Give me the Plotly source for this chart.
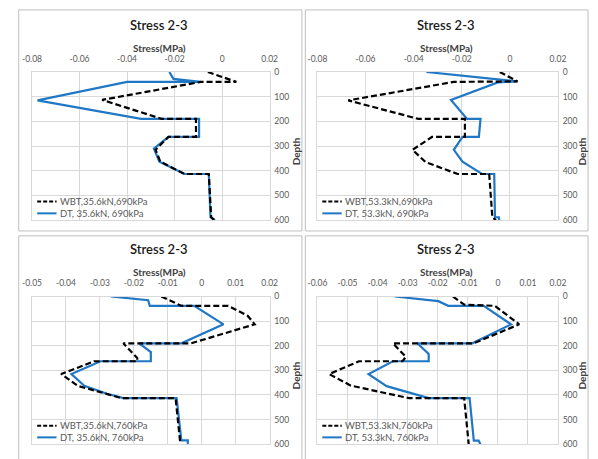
import plotly.graph_objects as go

# ---- data: stress (MPa) along depth for each loading case ----
# 35.6 kN, 690 kPa
wbt_356_690_depth = [0, 40, 40, 113, 190, 190, 263, 263, 315, 363, 413, 413, 588, 600]
wbt_356_690_stress = [-0.006, 0.006, -0.009, -0.0505, -0.0253, -0.011, -0.011, -0.0226, -0.028, -0.026, -0.0158, -0.0056, -0.0046, -0.0032]
dt_356_690_depth = [0, 28, 40, 40, 115, 190, 190, 263, 263, 310, 363, 413, 413, 588, 600]
dt_356_690_stress = [-0.0222, -0.0205, -0.009, -0.040, -0.0777, -0.0341, -0.0097, -0.0097, -0.0226, -0.0287, -0.0264, -0.0158, -0.0056, -0.0049, -0.0030]

# 53.3 kN, 690 kPa
wbt_533_690_depth = [0, 38, 40, 115, 190, 190, 263, 263, 315, 365, 413, 413, 588, 600]
wbt_533_690_stress = [-0.0042, 0.0032, -0.0233, -0.0672, -0.038, -0.0187, -0.0187, -0.0324, -0.0405, -0.035, -0.0217, -0.0086, -0.0073, -0.0058]
dt_533_690_depth = [0, 38, 42, 113, 190, 190, 263, 263, 315, 363, 413, 413, 588, 588, 600]
dt_533_690_stress = [-0.0347, 0.0030, -0.005, -0.0245, -0.0178, -0.0122, -0.0129, -0.0197, -0.0233, -0.0197, -0.0116, -0.0065, -0.0062, -0.0046, -0.0044]

# 35.6 kN, 760 kPa
wbt_356_760_depth = [0, 38, 38, 78, 113, 190, 190, 250, 263, 263, 315, 363, 413, 413, 600]
wbt_356_760_stress = [-0.0119, -0.006, 0.0078, 0.0135, 0.0156, -0.0031, -0.0231, -0.019, -0.019, -0.0317, -0.0414, -0.0365, -0.0236, -0.0077, -0.0063]
dt_356_760_depth = [0, 15, 38, 38, 113, 190, 190, 226, 263, 263, 315, 363, 395, 413, 413, 584, 584, 600]
dt_356_760_stress = [-0.0268, -0.0158, -0.0153, -0.0022, 0.0064, -0.006, -0.0184, -0.015, -0.015, -0.0298, -0.0384, -0.0346, -0.0279, -0.0231, -0.0074, -0.006, -0.0041, -0.0041]

# 53.3 kN, 760 kPa
wbt_533_760_depth = [0, 33, 38, 113, 190, 190, 245, 263, 263, 315, 362, 413, 413, 600]
wbt_533_760_stress = [-0.0149, -0.0112, -0.001, 0.0071, -0.008, -0.0349, -0.0306, -0.0317, -0.0462, -0.0561, -0.0489, -0.0295, -0.0112, -0.0097]
dt_533_760_depth = [0, 19, 38, 38, 113, 190, 190, 233, 263, 263, 315, 364, 413, 413, 585, 585, 600]
dt_533_760_stress = [-0.0343, -0.0198, -0.0165, -0.0047, 0.0044, -0.0085, -0.0268, -0.023, -0.023, -0.0349, -0.043, -0.037, -0.023, -0.0094, -0.008, -0.0064, -0.0058]

# axis ticks
stress_ticks_a = [-0.08, -0.06, -0.04, -0.02, 0, 0.02]
stress_labels_a = ["-0.08", "-0.06", "-0.04", "-0.02", "0", "0.02"]
stress_ticks_b = [-0.05, -0.04, -0.03, -0.02, -0.01, 0, 0.01, 0.02]
stress_labels_b = ["-0.05", "-0.04", "-0.03", "-0.02", "-0.01", "0", "0.01", "0.02"]
stress_ticks_c = [-0.06, -0.05, -0.04, -0.03, -0.02, -0.01, 0, 0.01, 0.02]
stress_labels_c = ["-0.06", "-0.05", "-0.04", "-0.03", "-0.02", "-0.01", "0", "0.01", "0.02"]
depth_ticks = [0, 100, 200, 300, 400, 500, 600]

W, H = 598, 459
FONT = "Lato"
BLUE = "#1F77C6"
GRID = "#d9d9d9"
TXT = "#595959"


def px(x):
    return x / W


def py(y):
    return 1 - y / H


panels = [
    dict(wbt=(wbt_356_690_stress, wbt_356_690_depth), dt=(dt_356_690_stress, dt_356_690_depth),
         ticks=stress_ticks_a, labels=stress_labels_a,
         names=("WBT,35.6kN,690kPa", "DT, 35.6kN, 690kPa"),
         plot=(22.7, 267.7, 68.5, 220), box=(9, 301, 5, 231), cx=154, dx=294.5, legx=28, top=0),
    dict(wbt=(wbt_533_690_stress, wbt_533_690_depth), dt=(dt_533_690_stress, dt_533_690_depth),
         ticks=stress_ticks_a, labels=stress_labels_a,
         names=("WBT,53.3kN,690kPa", "DT, 53.3kN, 690kPa"),
         plot=(317, 565, 68.5, 220), box=(304.5, 596, 5, 231), cx=450, dx=589.5, legx=322, top=0),
    dict(wbt=(wbt_356_760_stress, wbt_356_760_depth), dt=(dt_356_760_stress, dt_356_760_depth),
         ticks=stress_ticks_b, labels=stress_labels_b,
         names=("WBT,35.6kN,760kPa", "DT, 35.6kN, 760kPa"),
         plot=(22.7, 267.7, 298, 449), box=(9, 301, 236, 470), cx=154, dx=294.5, legx=28, top=229),
    dict(wbt=(wbt_533_760_stress, wbt_533_760_depth), dt=(dt_533_760_stress, dt_533_760_depth),
         ticks=stress_ticks_c, labels=stress_labels_c,
         names=("WBT,53.3kN,760kPa", "DT, 53.3kN, 760kPa"),
         plot=(317, 565, 298, 449), box=(304.5, 596, 236, 470), cx=450, dx=589.5, legx=322, top=229),
]

fig = go.Figure()
shapes = []
annotations = []
layout_axes = {}

for i, p in enumerate(panels, start=1):
    sfx = "" if i == 1 else str(i)
    xref, yref = "x" + sfx, "y" + sfx
    x0, x1, y0, y1 = p["plot"]

    fig.add_trace(go.Scatter(x=p["dt"][0], y=p["dt"][1], mode="lines", name=p["names"][1],
                             line=dict(color=BLUE, width=2.2), xaxis=xref, yaxis=yref,
                             showlegend=False))
    fig.add_trace(go.Scatter(x=p["wbt"][0], y=p["wbt"][1], mode="lines", name=p["names"][0],
                             line=dict(color="black", width=2.2, dash="6px,3px"),
                             xaxis=xref, yaxis=yref, showlegend=False))

    layout_axes["xaxis" + sfx] = dict(
        domain=[px(x0), px(x1)], anchor=yref, side="top",
        range=[p["ticks"][0], p["ticks"][-1]], tickvals=p["ticks"], ticktext=p["labels"],
        showgrid=True, gridcolor=GRID, gridwidth=1, zeroline=False,
        showline=True, linecolor=GRID, mirror=True, ticks="",
        tickfont=dict(family=FONT, size=8.5, color=TXT), ticklabelstandoff=6,
    )
    layout_axes["yaxis" + sfx] = dict(
        domain=[py(y1), py(y0)], anchor=xref, side="right",
        range=[600, 0], tickvals=depth_ticks,
        showgrid=True, gridcolor=GRID, gridwidth=1, zeroline=False,
        showline=True, linecolor=GRID, mirror=True, ticks="",
        tickfont=dict(family=FONT, size=8.5, color=TXT), ticklabelstandoff=2,
    )

    # chart frame
    bx0, bx1, by0, by1 = p["box"]
    shapes.append(dict(type="rect", xref="paper", yref="paper",
                       x0=px(bx0), x1=px(bx1), y0=py(by1), y1=py(by0),
                       line=dict(color="#bfbfbf", width=1), fillcolor="rgba(0,0,0,0)", layer="below"))

    t = p["top"]
    annotations.append(dict(text="Stress 2-3", x=px(p["cx"]), y=py(t + 20), xref="paper", yref="paper",
                            showarrow=False, xanchor="center", yanchor="middle",
                            font=dict(family=FONT, size=13, color="#1a1a1a", weight=600)))
    annotations.append(dict(text="<b>Stress(MPa)</b>", x=px(p["cx"]), y=py(t + 44), xref="paper", yref="paper",
                            showarrow=False, xanchor="center", yanchor="middle",
                            font=dict(family=FONT, size=10, color="#404040")))
    annotations.append(dict(text="<b>Depth</b>", x=px(p["dx"]), y=py(t + 150), xref="paper", yref="paper",
                            showarrow=False, xanchor="center", yanchor="middle", textangle=-90,
                            font=dict(family=FONT, size=10, color="#404040")))

    # legend block inside the plot area
    lx = p["legx"]
    for row, (name, color, dash) in enumerate([(p["names"][0], "black", "4px,2px"),
                                               (p["names"][1], BLUE, "solid")]):
        yy = t + 201 + 12 * row
        shapes.append(dict(type="line", xref="paper", yref="paper",
                           x0=px(lx), x1=px(lx + 20), y0=py(yy), y1=py(yy),
                           line=dict(color=color, width=2, dash=dash)))
        annotations.append(dict(text=name, x=px(lx + 21), y=py(yy), xref="paper", yref="paper",
                                showarrow=False, xanchor="left", yanchor="middle",
                                font=dict(family=FONT, size=9.5, color=TXT)))

fig.update_layout(
    width=W, height=H, margin=dict(l=0, r=0, t=0, b=0),
    paper_bgcolor="white", plot_bgcolor="white",
    showlegend=False, shapes=shapes, annotations=annotations,
    **layout_axes,
)

fig.write_html("out.html")
